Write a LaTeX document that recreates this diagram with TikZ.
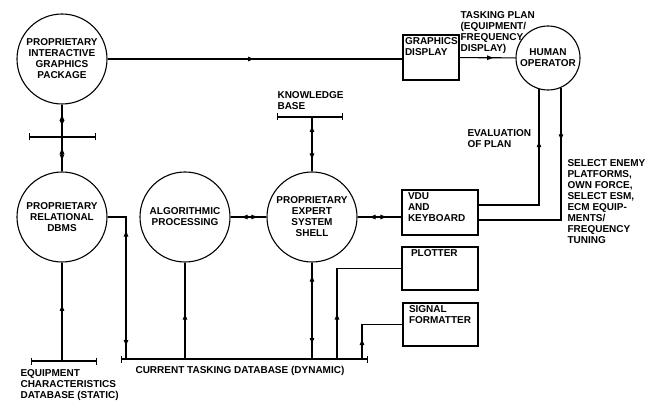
\documentclass[tikz,border=0pt]{standalone}
\usepackage{fontspec}
\setmainfont{Liberation Sans}
\usetikzlibrary{arrows.meta,decorations.markings,positioning}

\begin{document}
\begin{tikzpicture}[
    x=1pt,
    y=-1pt,
    line width=1.1pt,
    font=\fontsize{10}{11}\selectfont\bfseries,
    marker/.tip={Latex[length=7pt,width=5pt]},
    proceso/.style={
        draw,
        circle,
        minimum size=90pt,
        inner sep=0pt,
        align=center
    },
    unidad/.style={
        draw,
        rectangle,
        inner sep=0pt
    },
    rotulo/.style={
        anchor=north west,
        align=left,
        inner xsep=6pt,
        inner ysep=3pt
    },
    texto/.style={
        align=left,
        inner sep=0pt
    },
    barra/.style={{Bar[width=7pt]}-{Bar[width=7pt]}},
    mid/.style={
        postaction={decorate},
        decoration={markings, mark=at position #1 with {\arrow{marker}}}
    },
    both/.style 2 args={
        postaction={decorate},
        decoration={markings,
            mark=at position #1 with {\arrowreversed{marker}},
            mark=at position #2 with {\arrow{marker}}}
    }
]
    \useasboundingbox (0,0) rectangle (656,401);

    \node[proceso] (graphics) at (62,59)
        {PROPRIETARY\\INTERACTIVE\\GRAPHICS\\PACKAGE};
    \node[proceso] (dbms) at (62,217)
        {PROPRIETARY\\RELATIONAL\\DBMS};
    \node[proceso] (algorithmic) at (185,217)
        {ALGORITHMIC\\PROCESSING};
    \node[proceso] (expert) at (312,217)
        {PROPRIETARY\\EXPERT\\SYSTEM\\SHELL};
    \node[proceso, minimum size=64pt] (operator) at (548,58)
        {HUMAN\\OPERATOR};

    \node[unidad, minimum width=56pt, minimum height=45pt,
        label={[rotulo, inner xsep=2pt]north west:GRAPHICS\\DISPLAY}]
        (display) at (431,57.5) {};
    \node[unidad, minimum width=76pt, minimum height=45pt,
        label={[rotulo]north west:VDU\\AND\\KEYBOARD}]
        (vdu) at (440,212.5) {};
    \node[unidad, minimum width=76pt, minimum height=43pt,
        label={[rotulo, inner xsep=9pt]north west:PLOTTER}]
        (plotter) at (440,268.5) {};
    \node[unidad, minimum width=75pt, minimum height=43pt,
        label={[rotulo]north west:SIGNAL\\FORMATTER}]
        (formatter) at (440.5,324.5) {};

    \coordinate (graphics-bar-l) at (29,137);
    \coordinate (graphics-bar-r) at (96,137);
    \coordinate (knowledge-bar-l) at (277,117);
    \coordinate (knowledge-bar-r) at (343,117);
    \coordinate (equipment-bar-l) at (31,361);
    \coordinate (equipment-bar-r) at (97,361);
    \coordinate (current-bar-l) at (121,359);
    \coordinate (current-bar-r) at (368,359);

    \draw[barra] (graphics-bar-l) -- (graphics-bar-r);
    \draw[barra] (knowledge-bar-l) -- (knowledge-bar-r);
    \draw[barra] (equipment-bar-l) -- (equipment-bar-r);
    \draw[barra] (current-bar-l) -- (current-bar-r);

    \node[texto, anchor=north west] (plan) at (460,11)
        {TASKING PLAN\\(EQUIPMENT/\\FREQUENCY\\DISPLAY)};
    \node[texto, anchor=south west] (knowledge) at (277,110)
        {KNOWLEDGE\\BASE};
    \node[texto, anchor=north west] (evaluation-text) at (467,128.5)
        {EVALUATION\\OF PLAN};
    \node[texto, anchor=north west] (select-text) at (567,158.5)
        {SELECT ENEMY\\PLATFORMS,\\OWN FORCE,\\SELECT ESM,\\ECM EQUIP-\\MENTS/\\FREQUENCY\\TUNING};
    \node[texto, anchor=north west] (equipment) at (20,368.5)
        {EQUIPMENT\\CHARACTERISTICS\\DATABASE (STATIC)};
    \node[texto, anchor=west] (current) at (135,371)
        {CURRENT TASKING DATABASE (DYNAMIC)};

    \draw[mid=0.5] (graphics) -- (graphics -| display.west);
    \draw[mid=0.62] (display) -- (operator);

    \draw[both={9pt}{-10pt}] (graphics) -- (graphics |- graphics-bar-l);
    \draw[both={10pt}{-10pt}] (graphics |- graphics-bar-l) -- (dbms);
    \draw[both={8pt}{-11pt}] (expert |- knowledge-bar-l) -- (expert);

    \draw[mid=0.58] (dbms |- equipment-bar-l) -- (dbms);

    \coordinate (dbms-link) at (126,359);
    \draw[both={31pt}{-12pt}] (dbms.east) -| (dbms-link);

    \draw[mid=0.48] (algorithmic |- current-bar-l) -- (algorithmic);
    \draw[both={12pt}{-14pt}] (expert) -- (expert |- current-bar-l);
    \draw[both={10pt}{-8pt}] (algorithmic) -- (expert);
    \draw[both={11pt}{-14pt}] (expert) -- (expert -| vdu.west);

    \coordinate (plotter-link) at (337,359);
    \draw[mid=0.3] (plotter-link) |- (plotter);
    \coordinate (formatter-link) at (362,359);
    \draw[mid=0.28] (formatter-link) |- (formatter);

    \coordinate (evaluation) at (539,205);
    \draw[mid=0.71] (vdu.east |- evaluation) -- (evaluation)
        -- ([yshift=1.5pt]evaluation |- operator.south);
    \coordinate (select) at (561,220);
    \draw[mid=0.25] ([yshift=3pt]select |- operator.south) -- (select)
        -- (select -| vdu.east);
\end{tikzpicture}
\end{document}
